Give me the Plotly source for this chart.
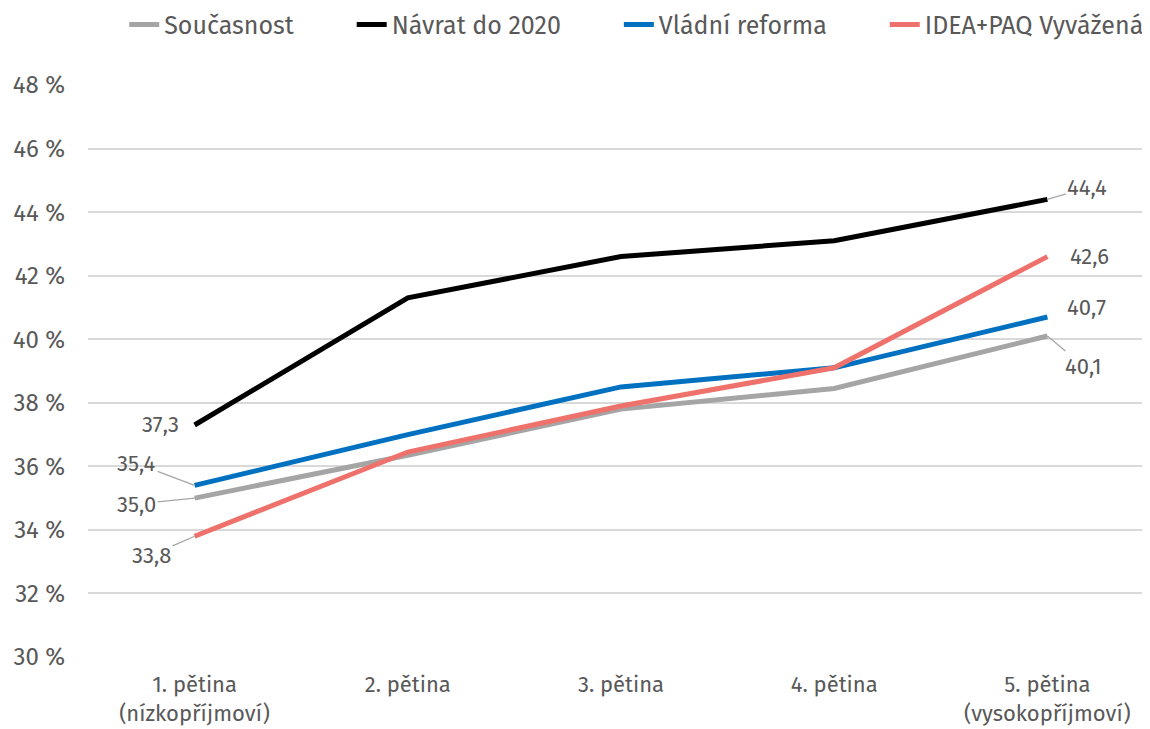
import plotly.graph_objects as go

FONT = "Fira Sans, Open Sans, sans-serif"
TEXT = "#595959"
GRID = "#d9d9d9"
PAD = "\u00a0" * 8  # extra room between legend entries

categories = ["1. pětina<br>(nízkopříjmoví)", "2. pětina", "3. pětina", "4. pětina",
              "5. pětina<br>(vysokopříjmoví)"]

soucasnost = [35.0, 36.35, 37.8, 38.45, 40.1]
navrat = [37.3, 41.3, 42.6, 43.1, 44.4]
vladni = [35.4, 37.0, 38.5, 39.1, 40.7]
idea = [33.8, 36.45, 37.9, 39.1, 42.6]

series = [
    ("Současnost" + PAD, soucasnost, "#a5a5a5"),
    ("Návrat do 2020" + PAD, navrat, "#000000"),
    ("Vládní reforma" + PAD, vladni, "#0070c0"),
    ("IDEA+PAQ Vyvážená", idea, "#ef716c"),
]

fig = go.Figure()
for name, vals, color in series:
    fig.add_trace(go.Scatter(
        x=categories, y=vals, mode="lines", name=name,
        line=dict(color=color, width=5),
    ))

# data labels: (series values, index, x offset px, y offset px, leader line?)
labels = [
    (navrat, 0, -34, -1, False),
    (vladni, 0, -58, -22, True),
    (soucasnost, 0, -58, 6, True),
    (idea, 0, -43, 19, True),
    (navrat, 4, 40, -12, True),
    (idea, 4, 42, 0, False),
    (vladni, 4, 39, -9, False),
    (soucasnost, 4, 36, 30, True),
]
for vals, i, ax, ay, leader in labels:
    v = vals[i]
    fig.add_annotation(
        x=categories[i], y=v, text=f"{v:.1f}".replace(".", ","),
        showarrow=True, arrowhead=0, arrowwidth=1.3,
        arrowcolor="#a6a6a6" if leader else "rgba(0,0,0,0)",
        ax=ax, ay=ay, standoff=0,
        font=dict(family=FONT, size=22, color=TEXT),
    )

fig.update_layout(
    width=1150, height=729,
    plot_bgcolor="white", paper_bgcolor="white",
    margin=dict(l=80, r=4, t=77, b=80),
    font=dict(family=FONT, size=22, color=TEXT),
    showlegend=True,
    legend=dict(
        orientation="h", x=0.034, xanchor="left",
        yref="container", y=0.977, yanchor="middle",
        font=dict(family=FONT, size=25, color=TEXT), itemwidth=30,
    ),
    xaxis=dict(
        type="category", range=[-0.5, 4.5], showgrid=False, showline=False,
        zeroline=False, ticks="", tickfont=dict(size=22, color=TEXT),
        ticklabelstandoff=12, automargin=False,
    ),
    yaxis=dict(
        range=[30, 48], dtick=2, ticksuffix=" %", showgrid=True,
        gridcolor=GRID, gridwidth=1.5, zeroline=False, showline=False,
        tickfont=dict(size=24, color=TEXT), ticklabelstandoff=22,
        automargin=False,
    ),
)

fig.write_html("out.html")
